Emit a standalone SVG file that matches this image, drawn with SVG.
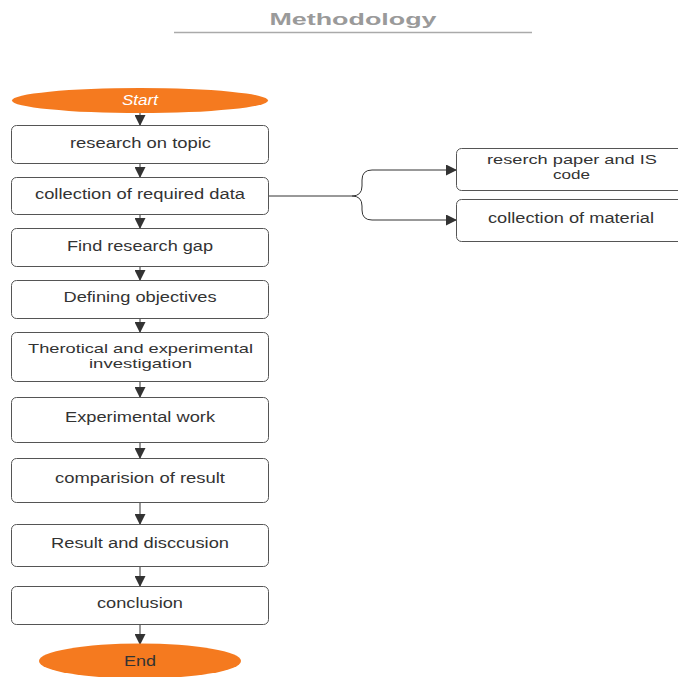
<svg xmlns="http://www.w3.org/2000/svg" width="678" height="677" viewBox="0 0 678 677">
<defs>
<marker id="ah" markerWidth="11" markerHeight="11" refX="10" refY="5.5" orient="auto" markerUnits="userSpaceOnUse">
<path d="M0,0 L11,5.5 L0,11 Z" fill="#333"/>
</marker>
<style>
.box{fill:#fff;stroke:#555;stroke-width:1}
.term{fill:#f57a1f}
.t{font-family:"Liberation Sans",Arial,sans-serif;font-size:14px;fill:#333;text-anchor:middle}
.t2{font-family:"Liberation Sans",Arial,sans-serif;font-size:13px;fill:#333;text-anchor:middle}
.c{fill:none;stroke:#333;stroke-width:1}
</style>
</defs>
<rect width="678" height="677" fill="#fff"/>
<g id="title">
<text x="353" y="25" font-family="Liberation Sans,Arial,sans-serif" font-size="16" font-weight="bold" fill="#9a9a9a" text-anchor="middle" textLength="167" lengthAdjust="spacingAndGlyphs">Methodology</text>
<line x1="174" y1="32.5" x2="532" y2="32.5" stroke="#aaa" stroke-width="1.5"/>
</g>
<g id="connectors">
<line class="c" x1="140" y1="113" x2="140" y2="125" marker-end="url(#ah)"/>
<line class="c" x1="140" y1="163" x2="140" y2="177" marker-end="url(#ah)"/>
<line class="c" x1="140" y1="214" x2="140" y2="228" marker-end="url(#ah)"/>
<line class="c" x1="140" y1="267" x2="140" y2="280" marker-end="url(#ah)"/>
<line class="c" x1="140" y1="318" x2="140" y2="332" marker-end="url(#ah)"/>
<line class="c" x1="140" y1="381" x2="140" y2="397" marker-end="url(#ah)"/>
<line class="c" x1="140" y1="442" x2="140" y2="458" marker-end="url(#ah)"/>
<line class="c" x1="140" y1="502" x2="140" y2="524" marker-end="url(#ah)"/>
<line class="c" x1="140" y1="566" x2="140" y2="586" marker-end="url(#ah)"/>
<line class="c" x1="140" y1="624" x2="140" y2="644" marker-end="url(#ah)"/>
<path class="c" d="M268,196 H352 Q362,196 362,186 V180 Q362,170 372,170 H456" marker-end="url(#ah)"/>
<path class="c" d="M352,196 Q362,196 362,206 V210 Q362,220 372,220 H456" marker-end="url(#ah)"/>
</g>
<g id="start">
<ellipse class="term" cx="140" cy="100.5" rx="128" ry="12.5"/>
<text class="t" x="140" y="105" style="fill:#fff;font-style:italic" textLength="36" lengthAdjust="spacingAndGlyphs">Start</text>
</g>
<g id="n1"><rect class="box" x="11.5" y="125.5" width="257" height="38" rx="5"/><text class="t" x="140.5" y="148" textLength="141" lengthAdjust="spacingAndGlyphs">research on topic</text></g>
<g id="n2"><rect class="box" x="11.5" y="177.5" width="257" height="37" rx="5"/><text class="t" x="140" y="199" textLength="210" lengthAdjust="spacingAndGlyphs">collection of required data</text></g>
<g id="n3"><rect class="box" x="11.5" y="228.5" width="257" height="38" rx="5"/><text class="t" x="140" y="251" textLength="146" lengthAdjust="spacingAndGlyphs">Find research gap</text></g>
<g id="n4"><rect class="box" x="11.5" y="280.5" width="257" height="38" rx="5"/><text class="t" x="140" y="302" textLength="153" lengthAdjust="spacingAndGlyphs">Defining objectives</text></g>
<g id="n5"><rect class="box" x="11.5" y="332.5" width="257" height="49" rx="5"/><text class="t2" x="140.5" y="353" textLength="225" lengthAdjust="spacingAndGlyphs">Therotical and experimental</text><text class="t2" x="140.5" y="368" textLength="103" lengthAdjust="spacingAndGlyphs">investigation</text></g>
<g id="n6"><rect class="box" x="11.5" y="397.5" width="257" height="45" rx="5"/><text class="t" x="140" y="422" textLength="150" lengthAdjust="spacingAndGlyphs">Experimental work</text></g>
<g id="n7"><rect class="box" x="11.5" y="458.5" width="257" height="44" rx="5"/><text class="t" x="140" y="483" textLength="170" lengthAdjust="spacingAndGlyphs">comparision of result</text></g>
<g id="n8"><rect class="box" x="11.5" y="524.5" width="257" height="42" rx="5"/><text class="t" x="140" y="548" textLength="178" lengthAdjust="spacingAndGlyphs">Result and disccusion</text></g>
<g id="n9"><rect class="box" x="11.5" y="586.5" width="257" height="38" rx="5"/><text class="t" x="140" y="608" textLength="86" lengthAdjust="spacingAndGlyphs">conclusion</text></g>
<g id="end">
<ellipse class="term" cx="140" cy="661" rx="101" ry="17.5"/>
<text class="t" x="140" y="666" textLength="32" lengthAdjust="spacingAndGlyphs">End</text>
</g>
<g id="r1"><rect class="box" x="456.5" y="148.5" width="240" height="42" rx="5"/><text class="t2" x="572" y="164" textLength="170" lengthAdjust="spacingAndGlyphs">reserch paper and IS</text><text class="t2" x="571.5" y="179" textLength="37" lengthAdjust="spacingAndGlyphs">code</text></g>
<g id="r2"><rect class="box" x="456.5" y="199.5" width="240" height="42" rx="5"/><text class="t" x="571" y="223" textLength="166" lengthAdjust="spacingAndGlyphs">collection of material</text></g>
</svg>
